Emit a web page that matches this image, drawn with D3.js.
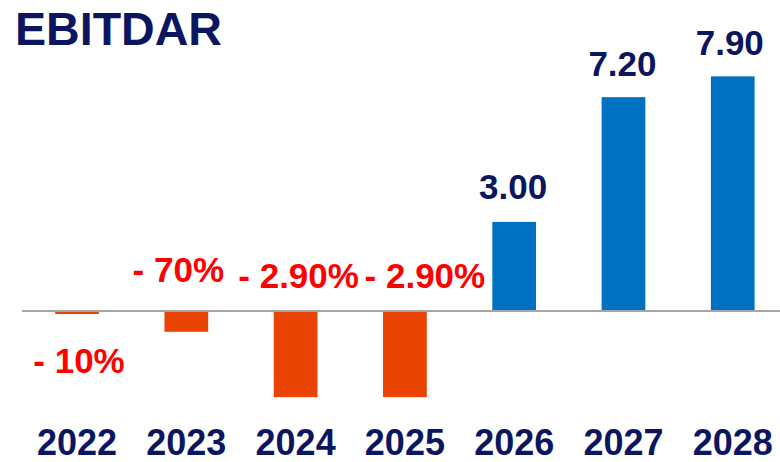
<!DOCTYPE html>
<html>
<head>
<meta charset="utf-8">
<script src="https://cdn.jsdelivr.net/npm/d3@7/dist/d3.min.js"></script>
<style>
	body { margin: 0; background: #fff; }
	svg { display: block; font-family: "Liberation Sans", Arial, sans-serif; }
</style>
</head>
<body>
<svg id="chart" width="780" height="462"></svg>
<script>
/* chart data */
var years = ["2022", "2023", "2024", "2025", "2026", "2027", "2028"];
var values = [-0.10, -0.70, -2.90, -2.90, 3.00, 7.20, 7.90];
var value_labels = ["- 10%", "- 70%", "- 2.90%", "- 2.90%", "3.00", "7.20", "7.90"];

/* hand-placed label nudges (as in the original slide) */
var label_dx = [2, -8, 3, 20, -1, -1, -3];
var label_dy = [62, -29, -23, -23, -23, -21, -21];

var navy = "#0c1660";

var svg = d3.select("#chart");

var x = d3.scaleBand().domain(years).range([22.4, 787.4]).paddingInner(0.6).paddingOuter(0.3);
var y = d3.scaleLinear().domain([-3, 8]).range([400.1, 73.4]);

// title
svg.append("text")
	.attr("x", 15)
	.attr("y", 45)
	.attr("font-size", 46)
	.attr("font-weight", "bold")
	.attr("fill", navy)
	.attr("textLength", 207)
	.attr("lengthAdjust", "spacingAndGlyphs")
	.text("EBITDAR");

// bars
svg.append("g")
	.selectAll("rect")
	.data(values)
	.enter().append("rect")
	.attr("x", function(d, i) { return x(years[i]); })
	.attr("width", x.bandwidth())
	.attr("y", function(d) { return d < 0 ? y(0) : y(d); })
	.attr("height", function(d) { return Math.abs(y(d) - y(0)); })
	.attr("fill", function(d) { return d < 0 ? "#e84300" : "#0070c0"; });

// zero line
svg.append("line")
	.attr("x1", 22)
	.attr("x2", 780)
	.attr("y1", y(0))
	.attr("y2", y(0))
	.attr("stroke", "#a6a6a6")
	.attr("stroke-width", 2);

// value labels
svg.append("g")
	.selectAll("text")
	.data(values)
	.enter().append("text")
	.attr("x", function(d, i) { return x(years[i]) + x.bandwidth() / 2 + label_dx[i]; })
	.attr("y", function(d, i) { return d < 0 ? y(0) + label_dy[i] : y(d) + label_dy[i]; })
	.attr("text-anchor", "middle")
	.attr("font-size", 35)
	.attr("font-weight", "bold")
	.attr("fill", function(d) { return d < 0 ? "#ff0000" : navy; })
	.text(function(d, i) { return value_labels[i]; });

// year labels
var axis = svg.append("g")
	.attr("transform", "translate(0,455)")
	.call(d3.axisBottom(x).tickSize(0).tickPadding(0));

axis.select(".domain").remove();
axis.selectAll("text")
	.attr("y", 0)
	.attr("dy", 0)
	.attr("font-family", "Liberation Sans, Arial, sans-serif")
	.attr("font-size", 36)
	.attr("font-weight", "bold")
	.attr("fill", navy);
</script>
</body>
</html>
